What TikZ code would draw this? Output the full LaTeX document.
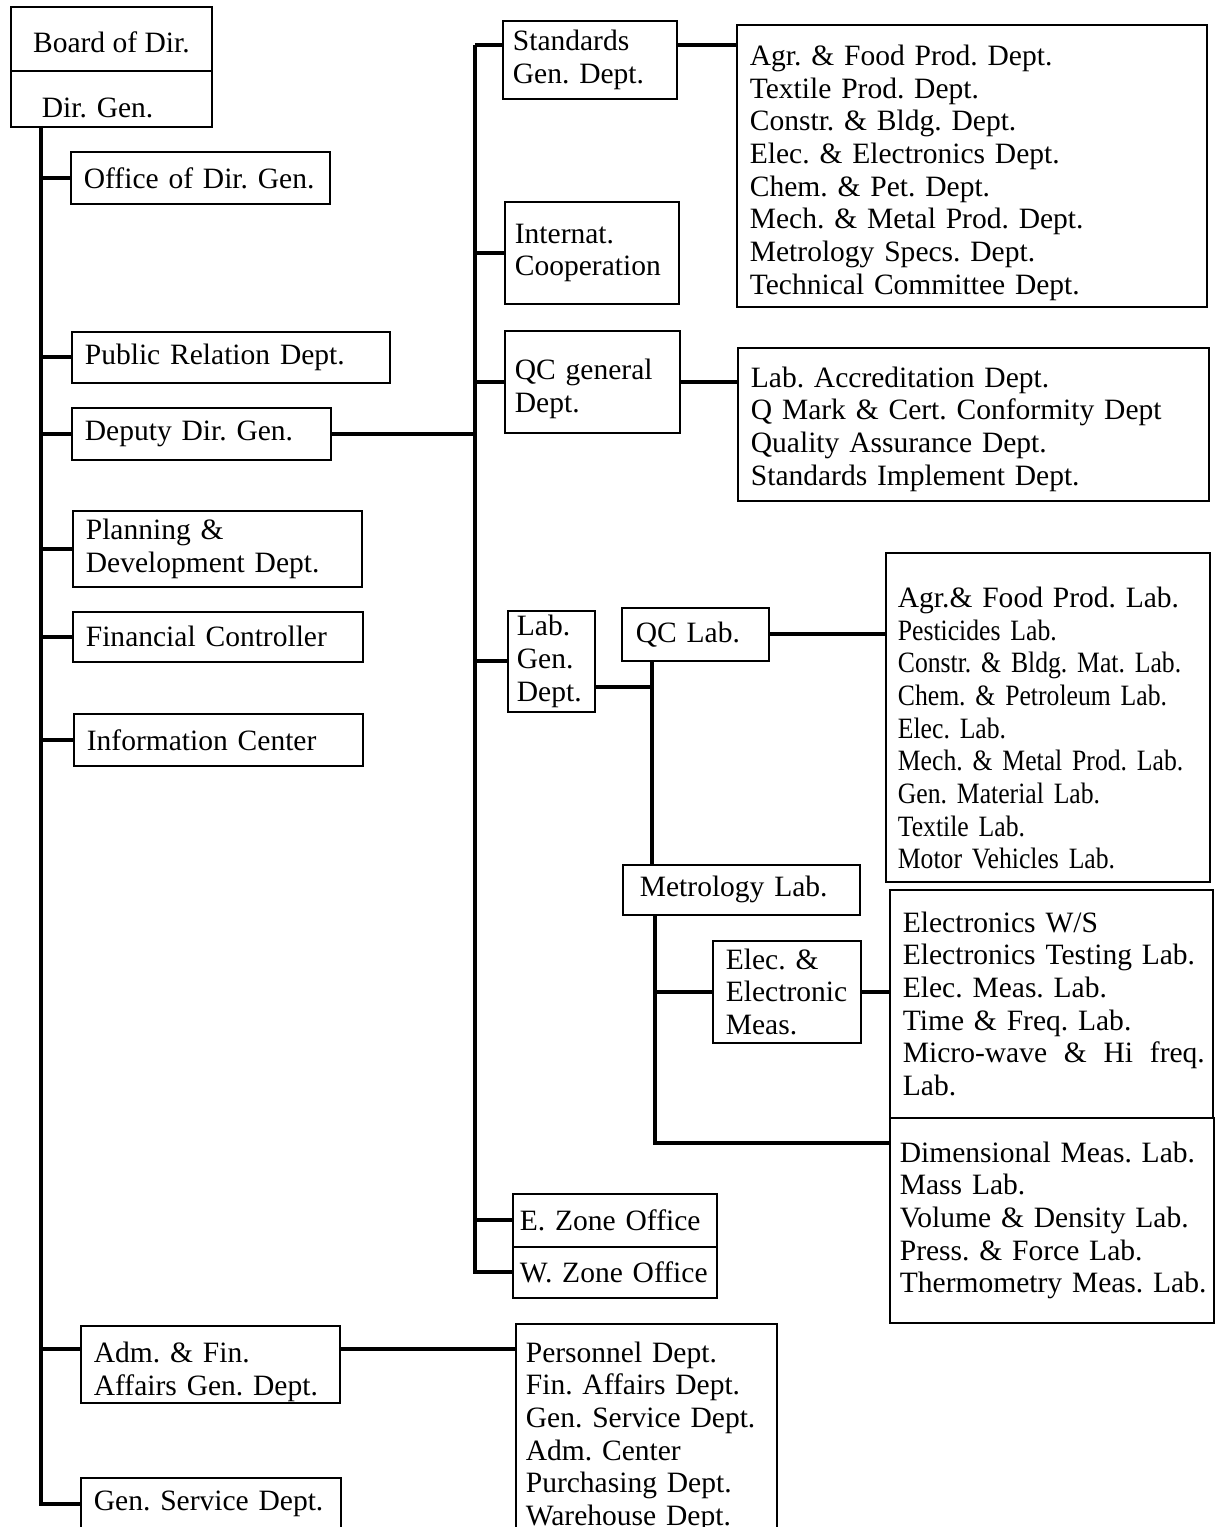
\documentclass[tikz,border=0pt]{standalone}
\usepackage{fontspec}
\setmainfont{Liberation Serif}
\newfontfamily\narrowserif[FakeStretch=0.87]{Liberation Serif}
\usepackage{tikz}
\usetikzlibrary{positioning}
\newcommand{\chartfont}{\fontsize{16.8pt}{18.6pt}\selectfont\frenchspacing\hyphenpenalty=10000 }

\begin{document}
\begin{tikzpicture}[x=0.02cm, y=-0.02cm, font=\chartfont]
  \tikzset{orgbox/.style={draw, line width=1pt, anchor=north west, align=left, inner xsep=0.26cm, inner ysep=0pt},
           wire/.style={line width=2.2pt}}
  \useasboundingbox (0,0) rectangle (1216,1527);
  \clip (0,0) rectangle (1216,1527);
  % top and left column
  \node[orgbox, minimum width=4.02cm, minimum height=1.28cm, text height=0.56cm] (board) at (10,6) {Board of Dir.};
  \node[orgbox, inner xsep=0.62cm, text width=2.78cm, minimum height=1.12cm, text height=0.76cm] (dirgen) at (10,70) {Dir. Gen.};
  \node[orgbox, text width=4.66cm, minimum height=1.04cm] (office) at (70,151) {Office of Dir. Gen.};
  \node[orgbox, text width=5.84cm, minimum height=1.02cm] (public) at (71,331) {Public Relation Dept.};
  \node[orgbox, text width=4.66cm, minimum height=1.04cm] (deputy) at (71,407) {Deputy Dir. Gen.};
  \node[orgbox, text width=5.26cm, minimum height=1.52cm] (planning) at (72,510) {Planning \&\\ Development Dept.};
  \node[orgbox, text width=5.28cm, minimum height=1.0cm] (financial) at (72,611) {Financial Controller};
  \node[orgbox, text width=5.26cm, minimum height=1.04cm] (info) at (73,713) {Information Center};
  \node[orgbox, text width=4.66cm, minimum height=1.54cm, text height=0.72cm] (admfin) at (80,1325) {Adm. \& Fin.\\ Affairs Gen. Dept.};
  \node[orgbox, text width=4.68cm, minimum height=1.04cm] (gensvc) at (80,1477) {Gen. Service Dept.};
  \node[orgbox, inner xsep=0.2cm, text width=4.82cm, minimum height=4.52cm] (admlist) at (515,1323)
    {Personnel Dept.\\ Fin. Affairs Dept.\\ Gen. Service Dept.\\ Adm. Center\\ Purchasing Dept.\\ Warehouse Dept.};
  % middle column
  \node[orgbox, inner xsep=0.2cm, text width=3.08cm, minimum height=1.56cm] (standards) at (502,20) {Standards\\ Gen. Dept.};
  \node[orgbox, inner xsep=0.2cm, text width=3.08cm, minimum height=2.04cm] (internat) at (504,201) {Internat.\\ Cooperation};
  \node[orgbox, inner xsep=0.2cm, text width=3.1cm, minimum height=2.04cm, text height=0.7cm] (qcgen) at (504,330) {QC general\\ Dept.};
  \node[orgbox, inner xsep=0.18cm, text width=1.38cm, minimum height=2.02cm] (labgen) at (507,610) {Lab.\\ Gen.\\ Dept.};
  \node[orgbox, inner xsep=0.28cm, text width=2.38cm, minimum height=1.06cm] (qclab) at (621,607) {QC Lab.};
  \node[orgbox, inner xsep=0.34cm, text width=4.06cm, minimum height=1.0cm] (metro) at (622,864) {Metrology Lab.};
  \node[orgbox, text width=2.44cm, minimum height=2.04cm] (elecmeas) at (712,940) {Elec. \&\\ Electronic\\ Meas.};
  \node[orgbox, inner xsep=0.14cm, text width=3.8cm, minimum height=1.06cm] (ezone) at (512,1193) {E. Zone Office};
  \node[orgbox, inner xsep=0.14cm, text width=3.8cm, minimum height=1.02cm] (wzone) at (512,1246) {W. Zone Office};
  % right lists
  \node[orgbox, text width=8.88cm, minimum height=5.64cm, text height=0.68cm] (deptlist) at (736,24)
    {Agr. \& Food Prod. Dept.\\ Textile Prod. Dept.\\ Constr. \& Bldg. Dept.\\ Elec. \& Electronics Dept.\\ Chem. \& Pet. Dept.\\
     Mech. \& Metal Prod. Dept.\\ Metrology Specs. Dept.\\ Technical Committee Dept.};
  \node[orgbox, text width=8.9cm, minimum height=3.06cm, text height=0.6cm] (qclist) at (737,347)
    {Lab. Accreditation Dept.\\ Q Mark \& Cert. Conformity Dept\\ Quality Assurance Dept.\\ Standards Implement Dept.};
  \node[orgbox, inner xsep=0.24cm, text width=6.0cm, minimum height=6.58cm, text height=0.84cm] (lablist) at (885,552)
    {Agr.\& Food Prod. Lab.\\ \narrowserif Pesticides Lab.\\ \narrowserif Constr. \& Bldg. Mat. Lab.\\ \narrowserif Chem. \& Petroleum Lab.\\
     \narrowserif Elec. Lab.\\ \narrowserif Mech. \& Metal Prod. Lab.\\ \narrowserif Gen. Material Lab.\\ \narrowserif Textile Lab.\\
     \narrowserif Motor Vehicles Lab.};
  \node[orgbox, text width=5.94cm, minimum height=4.56cm] (eleclist) at (889,889)
    {Electronics W/S\\ Electronics Testing Lab.\\ Elec. Meas. Lab.\\ Time \& Freq. Lab.\\
     \makebox[6.04cm][l]{Micro-wave\hfill\&\hfill Hi\hfill freq.}\\ Lab.};
  \node[orgbox, inner xsep=0.2cm, text width=6.08cm, minimum height=4.1cm] (dimlist) at (889,1117)
    {Dimensional Meas. Lab.\\ Mass Lab.\\ Volume \& Density Lab.\\ Press. \& Force Lab.\\ \mbox{Thermometry Meas. Lab.}};
  % junction points
  \coordinate (trunk) at (41,126);
  \coordinate (bar) at (475,45);
  \coordinate (qcstem) at (652,660);
  \coordinate (mstem) at (655,914);
  \coordinate (admtap) at ([yshift=-0.48cm]admfin.north west);
  % left trunk
  \draw[wire] (trunk) |- (gensvc.west);
  \foreach \n in {office,public,deputy,planning,financial,info}
    \draw[wire] (trunk |- \n.west) -- (\n.west);
  \draw[wire] (trunk |- admtap) -- (admtap);
  \draw[wire] (admtap -| admfin.east) -- (admtap -| admlist.west);
  % middle bar
  \draw[wire] (deputy.east) -- (deputy.east -| bar);
  \draw[wire] (bar) |- (wzone.west);
  \draw[wire] (bar) -- (bar -| standards.west);
  \foreach \n in {internat,qcgen,labgen,ezone}
    \draw[wire] (bar |- \n.west) -- (\n.west);
  \draw[wire] (bar -| standards.east) -- (bar -| deptlist.west);
  \draw[wire] (qcgen.east) -- (qcgen.east -| qclist.west);
  % laboratories
  \draw[wire] ([yshift=-0.51cm]labgen.east) -- ([yshift=-0.51cm]labgen.east -| qcstem);
  \draw[wire] (qcstem) -- (qcstem |- metro.north);
  \draw[wire] (qclab.east) -- (qclab.east -| lablist.west);
  \draw[wire] (mstem) |- ([yshift=-0.52cm]dimlist.north west);
  \draw[wire] (mstem |- elecmeas.west) -- (elecmeas.west);
  \draw[wire] (elecmeas.east) -- (elecmeas.east -| eleclist.west);
\end{tikzpicture}
\end{document}
